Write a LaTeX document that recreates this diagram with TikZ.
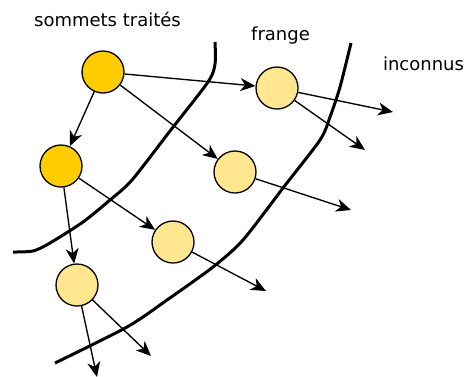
\documentclass[tikz,border=0pt]{standalone}
\usepackage{fontspec}
\setmainfont{DejaVu Sans}
\usetikzlibrary{arrows.meta}
\definecolor{done}{RGB}{255,204,0}
\definecolor{fringe}{RGB}{255,230,143}
\begin{document}
\begin{tikzpicture}[x=1pt,y=-1pt,
  vertex/.style={circle,draw=black,line width=1.3pt,minimum size=42pt,inner sep=0pt},
  donev/.style={vertex,fill=done},
  fringev/.style={vertex,fill=fringe},
  edge/.style={line width=1.35pt,-{Stealth[length=15pt,width=13pt,inset=4.5pt]}},
  border/.style={line width=3pt,line join=round},
  lbl/.style={font=\fontsize{18}{20}\selectfont,anchor=base,inner sep=0pt}]
\useasboundingbox (0,0) rectangle (465,376);

% region labels
\node[lbl] (lt) at (107.5,26.7) {sommets traités};
\node[lbl] (lf) at (280.5,40.7) {frange};
\node[lbl] (li) at (423.5,70.7) {inconnus};

% borders between the regions
\draw[border] plot[smooth,tension=0.45] coordinates
  {(215,42) (215,64) (208,82) (170,131) (132,180) (110,200) (83,222) (50,243) (33,251) (13,252)};
\draw[border] plot[smooth,tension=0.45] coordinates
  {(351,43) (340,87) (330,117) (320,140) (283,188) (243,240) (213,267) (167,300) (127,327) (55,363)};

% vertices
\node[donev] (a) at (103,72) {};
\node[donev] (b) at (61,166) {};
\node[fringev] (c) at (277,88) {};
\node[fringev] (d) at (235,172) {};
\node[fringev] (e) at (173,242) {};
\node[fringev] (f) at (77,285) {};

% free ends of the outgoing edges
\coordinate (c1) at (393,112);
\coordinate (c2) at (365,150);
\coordinate (d1) at (351,210);
\coordinate (e1) at (266,291);
\coordinate (f1) at (151,356);
\coordinate (f2) at (97,377);

\draw[edge] (a) -- (c);
\draw[edge] (a) -- (d);
\draw[edge] (a) -- (b);
\draw[edge] (b) -- (e);
\draw[edge] (b) -- (f);
\draw[edge] (c) -- (c1);
\draw[edge] (c) -- (c2);
\draw[edge] (d) -- (d1);
\draw[edge] (e) -- (e1);
\draw[edge] (f) -- (f1);
\draw[edge] (f) -- (f2);
\end{tikzpicture}
\end{document}
